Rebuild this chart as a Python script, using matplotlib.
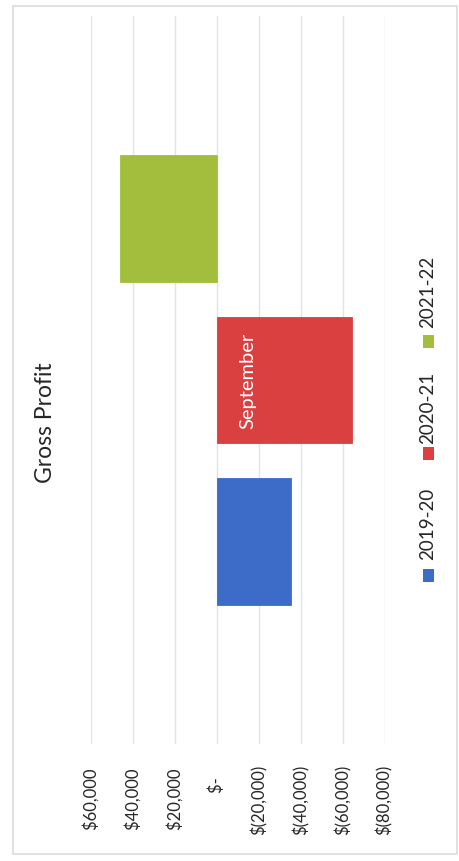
import matplotlib
matplotlib.use("Agg")
import matplotlib.pyplot as plt
from matplotlib.patches import Rectangle
from matplotlib.ticker import FixedLocator, FuncFormatter

plt.rcParams['font.family'] = ['Lato', 'DejaVu Sans']

# Data
category = "September"
series = ["2019-20", "2020-21", "2021-22"]
values = [-35500, -64400, 46000]
colors = ["#3C6CC8", "#D9403F", "#A3BE3C"]
ticks = [60000, 40000, 20000, 0, -20000, -40000, -60000, -80000]

W, H = 459, 862
TEXT = "#262626"
fig = plt.figure(figsize=(W / 100, H / 100), dpi=100)
fig.patch.set_facecolor("white")

# chart-area border
fig.add_artist(Rectangle((13 / W, 7 / H), 444 / W, 848 / H, transform=fig.transFigure,
                         fill=False, edgecolor="#dcdcdc", linewidth=1.2))

# plot area (value axis runs horizontally, positive to the left)
left, right = 91.0, 384.5
top, bottom = 17, 745
ax = fig.add_axes([left / W, (H - bottom) / H, (right - left) / W, (bottom - top) / H])
ax.set_xlim(ticks[0], ticks[-1])
ax.set_ylim(1 - 2.254, 1 + 2.254)

bar_h = 0.786
for i, (name, v, c) in enumerate(zip(series, values, colors)):
    ax.barh(i, v, height=bar_h, color=c, edgecolor=c, linewidth=0.6, zorder=3)

ax.xaxis.set_major_locator(FixedLocator(ticks))


def fmt(v, pos=None):
    if v == 0:
        return "$-   "
    if v < 0:
        return "$({:,.0f})".format(-v)
    return "${:,.0f} ".format(v)


ax.xaxis.set_major_formatter(FuncFormatter(fmt))
ax.tick_params(axis="x", length=0, pad=14, labelsize=12, labelcolor=TEXT,
               labelrotation=90)
ax.set_yticks([])
ax.grid(axis="x", color="#e4e4e4", linewidth=1.0, zorder=0)
for s in ax.spines.values():
    s.set_visible(False)

# category label along the zero line
ax.annotate(category, xy=(0, 1), xycoords="data", xytext=(31, 0),
            textcoords="offset pixels", rotation=90, ha="center", va="center",
            color="white", fontsize=14.5)

# title
fig.text(45 / W, 1 - 423 / H, "Gross Profit", rotation=90, ha="center", va="center",
         fontsize=16.5, color=TEXT)

# legend
legend_x = 428
legend_items = [(576, 524), (454, 408), (342, 292)]  # (marker centre y, text centre y)
for (my, ty), name, c in zip(legend_items, series, colors):
    fig.add_artist(Rectangle(((legend_x - 5.5) / W, 1 - (my + 6.5) / H), 11 / W, 13 / H,
                             transform=fig.transFigure, facecolor=c, edgecolor="none"))
    fig.text(legend_x / W, 1 - ty / H, name, rotation=90, ha="center", va="center",
             fontsize=13.5, color=TEXT)

fig.savefig("out.png", dpi=100, facecolor="white")
